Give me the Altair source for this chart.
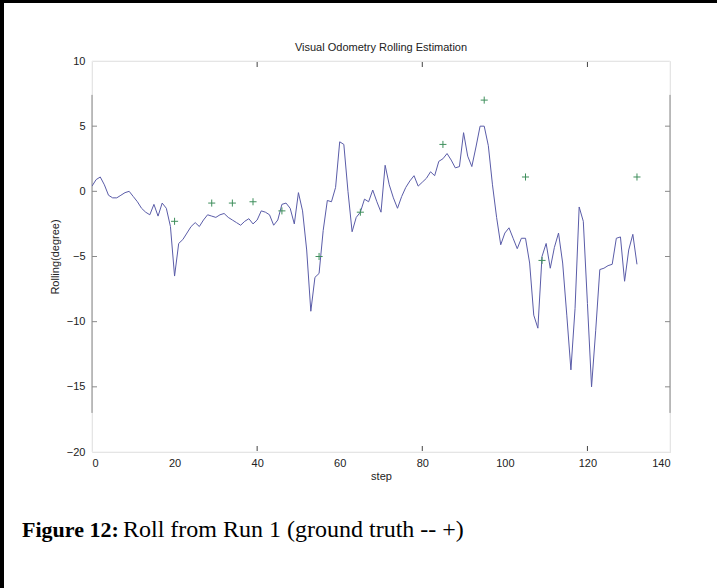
import altair as alt
import pandas as pd

# Estimated roll (degrees) at each step 0..132
roll_est = [
    0.4, 0.9, 1.1, 0.5, -0.3, -0.5, -0.5, -0.3, -0.1, 0.0,
    -0.4, -0.8, -1.3, -1.6, -1.8, -1.0, -1.9, -0.9, -1.3, -2.7,
    -6.5, -4.0, -3.7, -3.2, -2.7, -2.4, -2.7, -2.2, -1.8, -1.9,
    -2.0, -1.8, -1.7, -2.0, -2.2, -2.4, -2.6, -2.3, -2.1, -2.5,
    -2.2, -1.5, -1.6, -1.8, -2.6, -2.2, -1.0, -0.9, -1.3, -2.5,
    -0.1, -1.5, -4.5, -9.2, -6.6, -6.3, -3.0, -0.7, -0.8, 0.3,
    3.8, 3.6, 0.0, -3.1, -2.0, -1.6, -0.6, -0.8, 0.1, -0.8,
    -1.6, 2.0, 0.5, -0.5, -1.3, -0.4, 0.3, 0.8, 1.2, 0.4,
    0.7, 1.0, 1.5, 1.2, 2.3, 2.5, 2.9, 2.4, 1.8, 1.9,
    4.5, 2.7, 1.9, 3.4, 5.0, 5.0, 3.5, 0.5, -2.0, -4.1,
    -3.2, -2.8, -3.6, -4.4, -3.6, -3.6, -5.5, -9.5, -10.5, -5.0,
    -4.0, -5.9, -4.3, -3.2, -5.5, -9.5, -13.7, -9.0, -1.2, -2.3,
    -8.6, -15.0, -10.7, -6.0, -5.9, -5.7, -5.6, -3.6, -3.5, -6.9,
    -4.5, -3.3, -5.6,
]
steps = list(range(len(roll_est)))

# Ground truth (plus markers)
gt_step = [20, 29, 34, 39, 46, 55, 65, 85, 95, 105, 109, 132]
gt_roll = [-2.3, -0.9, -0.9, -0.8, -1.5, -5.0, -1.6, 3.6, 7.0, 1.1, -5.3, 1.1]

x_ticks = [0, 20, 40, 60, 80, 100, 120, 140]
y_ticks = [10, 5, 0, -5, -10, -15, -20]
inner_x_ticks = [40, 80, 120]
inner_y_ticks = [5, 0, -5, -10, -15]

W, H = 578, 391
FONT = "Liberation Sans"

est_df = pd.DataFrame({"step": steps, "roll": roll_est})
gt_df = pd.DataFrame({"step": gt_step, "roll": gt_roll})
xt_df = pd.DataFrame({"v": inner_x_ticks})
yt_df = pd.DataFrame({"v": inner_y_ticks})
frame_df = pd.DataFrame({"x": [0, 140], "y1": [-17.0, -17.0], "y2": [7.4, 7.4]})

xs = alt.Scale(domain=[0, 140], nice=False, zero=False)
ys = alt.Scale(domain=[-20, 10], nice=False, zero=False)

xaxis = alt.Axis(values=x_ticks, format="d", domain=False, ticks=False, grid=False,
                 labelFont=FONT, labelFontSize=11, labelColor="#222", labelPadding=5,
                 title="step", titleFont=FONT, titleFontSize=11, titleFontWeight="normal",
                 titleColor="#222", titlePadding=2)
yaxis = alt.Axis(values=y_ticks, format="d", domain=False, ticks=False, grid=False,
                 labelFont=FONT, labelFontSize=11, labelColor="#222", labelPadding=7,
                 title="Rolling(degree)", titleFont=FONT, titleFontSize=11,
                 titleFontWeight="normal", titleColor="#222", titlePadding=6)

line = alt.Chart(est_df).mark_line(color="#5a5ca8", strokeWidth=1, clip=True).encode(
    x=alt.X("step:Q", scale=xs, axis=xaxis),
    y=alt.Y("roll:Q", scale=ys, axis=yaxis),
)

plus_path = "M-1,0L1,0M0,-1L0,1"
pts = alt.Chart(gt_df).mark_point(shape=plus_path, filled=False, color="#3f8f5c",
                                  strokeWidth=1, size=50, opacity=1).encode(
    x=alt.X("step:Q", scale=xs),
    y=alt.Y("roll:Q", scale=ys),
)

one = pd.DataFrame({"a": [0]})

# faint full frame
faint = alt.Chart(one).mark_rect(
    fill=None, stroke="#eeeeee", strokeWidth=1).encode(
    x=alt.value(0), x2=alt.value(W), y=alt.value(0), y2=alt.value(H))

# visible side segments of the frame
sides = alt.Chart(frame_df).mark_rule(color="#8a8a8a", strokeWidth=1).encode(
    x=alt.X("x:Q", scale=xs), y=alt.Y("y1:Q", scale=ys), y2="y2:Q")

lt = alt.Chart(yt_df).mark_rule(color="#8a8a8a").encode(
    y=alt.Y("v:Q", scale=ys), x=alt.value(0), x2=alt.value(5))
rt = alt.Chart(yt_df).mark_rule(color="#8a8a8a").encode(
    y=alt.Y("v:Q", scale=ys), x=alt.value(W - 5), x2=alt.value(W))
tt = alt.Chart(xt_df).mark_rule(color="#444").encode(
    x=alt.X("v:Q", scale=xs), y=alt.value(1), y2=alt.value(6))
bt = alt.Chart(xt_df).mark_rule(color="#444").encode(
    x=alt.X("v:Q", scale=xs), y=alt.value(H - 6), y2=alt.value(H - 1))

# chart title
title = alt.Chart(pd.DataFrame({"t": ["Visual Odometry Rolling Estimation"]})).mark_text(
    font=FONT, fontSize=11, align="center", baseline="middle", color="#222").encode(
    text="t:N", x=alt.value(W / 2), y=alt.value(-13))

# page border (left and top) and figure caption
border_l = alt.Chart(one).mark_rule(color="black", strokeWidth=4).encode(
    x=alt.value(-90), y=alt.value(-61), y2=alt.value(527))
border_t = alt.Chart(one).mark_rule(color="black", strokeWidth=3).encode(
    x=alt.value(-92), x2=alt.value(625), y=alt.value(-59.5))

cap_bold = alt.Chart(pd.DataFrame({"t": ["Figure 12:"]})).mark_text(
    font="Liberation Serif", fontSize=22, fontWeight="bold", align="left",
    baseline="alphabetic", color="black").encode(
    text="t:N", x=alt.value(-70), y=alt.value(476))
cap_rest = alt.Chart(pd.DataFrame({"t": ["Roll from Run 1 (ground truth -- +)"]})).mark_text(
    font="Liberation Serif", fontSize=24, align="left",
    baseline="alphabetic", color="black").encode(
    text="t:N", x=alt.value(31), y=alt.value(476))

chart = alt.layer(faint, sides, lt, rt, tt, bt, line, pts, title, border_l, border_t,
                  cap_bold, cap_rest).properties(
    width=W, height=H,
    padding={"left": 92, "top": 61, "right": 47, "bottom": 136},
    autosize=alt.AutoSizeParams(type="none"),
).configure_view(stroke=None).configure(background="white")

chart.save("out.html", embed_options={"renderer": "svg", "actions": False})
